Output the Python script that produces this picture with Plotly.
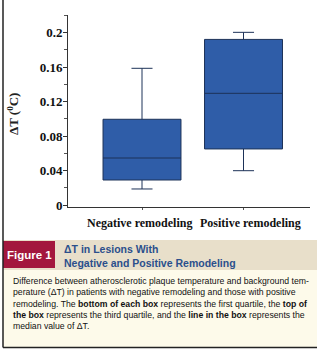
import plotly.graph_objects as go

categories = ["Negative remodeling", "Positive remodeling"]
q1 = [0.029, 0.065]
median = [0.0545, 0.1295]
q3 = [0.0994, 0.192]
lowerfence = [0.0186, 0.0398]
upperfence = [0.1585, 0.2002]
ytickvals = [0, 0.04, 0.08, 0.12, 0.16, 0.2]
yticktext = ["0", "0.04", "0.08", "0.12", "0.16", "0.2"]

W, H = 317, 350
ML, MR, MT, MB = 68, 7, 15, 143
PW, PH = W - ML - MR, H - MT - MB


def px(x):
    return (x - ML) / PW


def py(y):
    return (H - MB - y) / PH


fig = go.Figure()
fig.add_trace(go.Box(
    x=categories, q1=q1, median=median, q3=q3,
    lowerfence=lowerfence, upperfence=upperfence,
    fillcolor="#2f5da8", line=dict(color="#1d3258", width=1),
    whiskerwidth=0.27, width=0.768, boxpoints=False, showlegend=False,
    hoverinfo="skip",
))

serif = "Liberation Serif"
sans = "Liberation Sans"

shapes = [
    dict(type="rect", xref="paper", yref="paper", x0=px(3), x1=px(317), y0=py(270), y1=py(240),
         fillcolor="#e8dfca", line=dict(width=0), layer="below"),
    dict(type="rect", xref="paper", yref="paper", x0=px(3), x1=px(55), y0=py(268), y1=py(241),
         fillcolor="#a3173d", line=dict(width=0), layer="below"),
    dict(type="rect", xref="paper", yref="paper", x0=px(3), x1=px(317), y0=py(347), y1=py(270),
         fillcolor="#fdfaea", line=dict(width=0), layer="below"),
    dict(type="line", xref="paper", yref="paper", x0=px(3), x1=px(3), y0=py(0), y1=py(347.5),
         line=dict(color="#222222", width=1.5)),
    dict(type="line", xref="paper", yref="paper", x0=px(3), x1=px(317), y0=py(347.5), y1=py(347.5),
         line=dict(color="#222222", width=1.5)),
]

caption = ("Difference between atherosclerotic plaque temperature and background tem-<br>"
           "perature (ΔT) in patients with negative remodeling and those with positive<br>"
           "remodeling. The <b>bottom of each box</b> represents the first quartile, the <b>top of</b><br>"
           "<b>the box</b> represents the third quartile, and the <b>line in the box</b> represents the<br>"
           "median value of ΔT.")

label_shift = [-3, 7]
annotations = [
    dict(xref="x", yref="paper", x=cat, y=py(214), yanchor="top", xanchor="center", xshift=s,
         text=f"<b>{cat}</b>", showarrow=False,
         font=dict(family=serif, size=12, color="#111111"))
    for cat, s in zip(categories, label_shift)
] + [
    dict(xref="paper", yref="paper", x=px(13), y=py(114), xanchor="center", yanchor="middle",
         text="<b>ΔT (<sup>0</sup>C)</b>",
         textangle=-90, showarrow=False, font=dict(family=serif, size=13, color="#222222")),
    dict(xref="paper", yref="paper", x=px(29.5), y=py(255), xanchor="center", yanchor="middle",
         text="<b>Figure 1</b>",
         showarrow=False, font=dict(family=sans, size=11.5, color="white")),
    dict(xref="paper", yref="paper", x=px(62), y=py(255.5), xanchor="left", yanchor="middle",
         align="left",
         text="<b>ΔT in Lesions With<br>Negative and Positive Remodeling</b>",
         showarrow=False, font=dict(family=sans, size=10.5, color="#2b4f8c")),
    dict(xref="paper", yref="paper", x=px(11), y=py(274), xanchor="left", yanchor="top", align="left",
         text=caption, showarrow=False, font=dict(family=sans, size=8.7, color="#111111")),
]

fig.update_layout(
    width=W, height=H, margin=dict(l=ML, r=MR, t=MT, b=MB, pad=0),
    paper_bgcolor="white", plot_bgcolor="white",
    shapes=shapes, annotations=annotations,
    xaxis=dict(type="category", range=[-0.729, 1.655], showline=True, linecolor="#333333",
               linewidth=1, ticks="outside", ticklen=2, tickcolor="#555555",
               showgrid=False, zeroline=False, showticklabels=False, automargin=False),
    yaxis=dict(range=[-0.0023, 0.2203], showline=True, linecolor="#333333", linewidth=1,
               tickvals=ytickvals, ticktext=[f"<b>{t}</b>" for t in yticktext],
               ticks="outside", ticklen=4, tickcolor="#333333", automargin=False,
               ticklabelstandoff=-2,
               minor=dict(dtick=0.02, tick0=0, ticks="outside", ticklen=3, tickcolor="#555555"),
               showgrid=False, zeroline=False,
               tickfont=dict(family=serif, size=13, color="#111111")),
)

fig.write_html("out.html")
